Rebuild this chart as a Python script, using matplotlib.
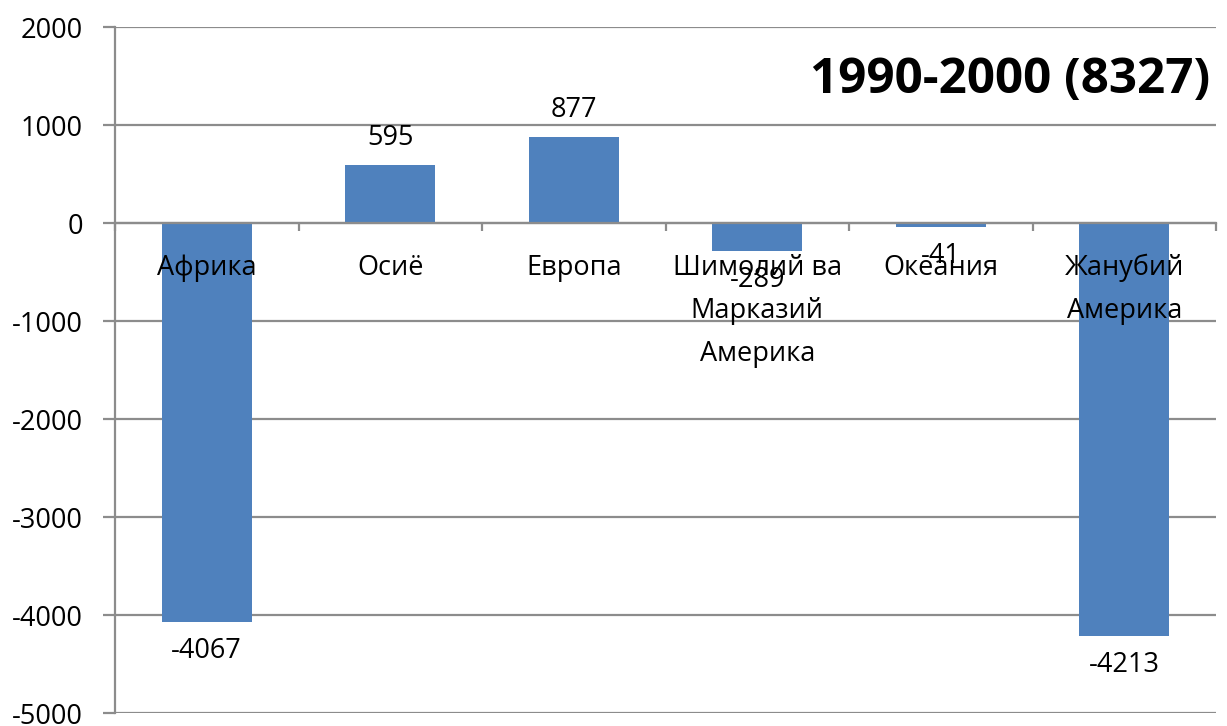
import matplotlib.pyplot as plt

plt.rcParams['font.family'] = ['Open Sans', 'DejaVu Sans']

# data
regions = ["Африка", "Осиё", "Европа", "Шимолий ва\nМарказий\nАмерика", "Океания", "Жанубий\nАмерика"]
change = [-4067, 595, 877, -289, -41, -4213]
title = "1990-2000 (8327)"
y_ticks = [-5000, -4000, -3000, -2000, -1000, 0, 1000, 2000]

bar_color = "#4F81BD"
grid_color = "#8C8C8C"

fig = plt.figure(figsize=(12.27, 7.26), dpi=100)
ax = fig.add_axes([115 / 1227, 1 - 713 / 726, (1216 - 115) / 1227, (713 - 27) / 726])

x = list(range(len(regions)))
ax.bar(x, change, width=0.49, color=bar_color, zorder=2)

ax.set_xlim(-0.5, len(regions) - 0.5)
ax.set_ylim(y_ticks[0], y_ticks[-1])
ax.set_yticks(y_ticks)
ax.set_yticklabels([str(v) for v in y_ticks], fontsize=19.5)
ax.yaxis.grid(True, color=grid_color, linewidth=1.6)
ax.set_axisbelow(True)

ax.spines['top'].set_visible(False)
ax.spines['right'].set_visible(False)
ax.spines['left'].set_color(grid_color)
ax.spines['left'].set_linewidth(1.6)
ax.spines['bottom'].set_position(('data', 0))
ax.spines['bottom'].set_color(grid_color)
ax.spines['bottom'].set_linewidth(1.6)
ax.tick_params(axis='y', length=9, width=1.6, color=grid_color, pad=14)

# category boundary ticks on the zero line
ax.set_xticks([i - 0.5 for i in range(len(regions) + 1)])
ax.set_xticklabels([])
ax.tick_params(axis='x', length=6, width=1.6, color=grid_color, direction='out')

for i, name in enumerate(regions):
    ax.annotate(name, (i, 0), xytext=(0, -31), textcoords='offset pixels',
                ha='center', va='top', fontsize=19.5, linespacing=1.72, zorder=5)

for i, v in enumerate(change):
    off = 27 if v > 0 else -29
    ax.annotate(str(v), (i, v), xytext=(0, off), textcoords='offset pixels',
                ha='center', va='center', fontsize=19.5, zorder=6)

fig.text(1210 / 1227, 1 - 81 / 726, title, ha='right', va='center',
         fontsize=35.5, fontweight='bold')

fig.savefig("out.png", dpi=100)
